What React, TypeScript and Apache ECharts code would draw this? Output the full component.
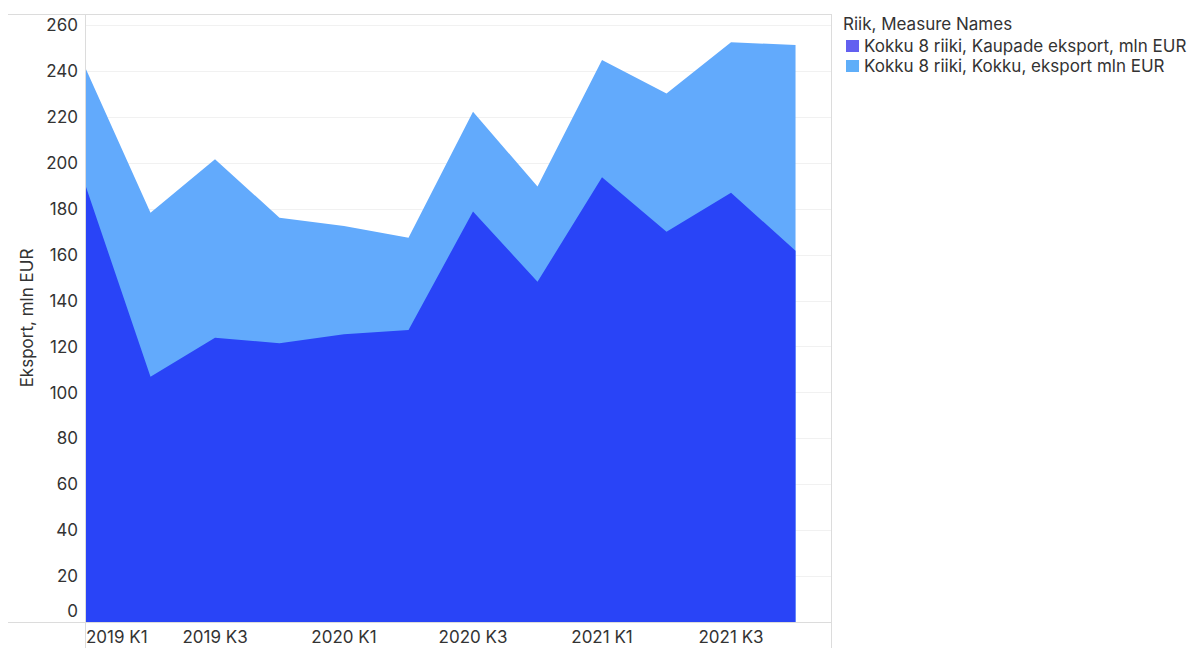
import React, { useEffect, useRef } from "react";
import * as echarts from "echarts";

const quarters = [
  "2019 K1", "2019 K2", "2019 K3", "2019 K4",
  "2020 K1", "2020 K2", "2020 K3", "2020 K4",
  "2021 K1", "2021 K2", "2021 K3", "2021 K4",
];
const goodsExport = [189.6, 106.9, 123.9, 121.5, 125.4, 127.3, 178.9, 148.3, 193.8, 170.1, 187.1, 161.8];
const totalExport = [240.9, 178.4, 201.7, 176.2, 172.6, 167.5, 222.4, 189.8, 245.0, 230.4, 252.7, 251.5];

const goodsName = "Kokku 8 riiki, Kaupade eksport, mln EUR";
const totalName = "Kokku 8 riiki, Kokku, eksport mln EUR";
const legendTitle = "Riik, Measure Names";
const yTitle = "Eksport, mln EUR";

const FONT = "Inter, 'Noto Sans', sans-serif";
const TXT = "#333333";
const BORDER = "#dcdcdc";
const FS = 17;

export default function App() {
  const ref = useRef<HTMLDivElement>(null);
  useEffect(() => {
    if (!ref.current) return;
    const chart = echarts.init(ref.current, undefined, { renderer: "svg" });
    const L = 86, R = 831, T = 14, B = 622;
    chart.setOption({
      animation: false,
      backgroundColor: "#ffffff",
      textStyle: { fontFamily: FONT, color: TXT },
      grid: { left: L, right: 1196 - R, top: T, bottom: 648 - B, containLabel: false },
      xAxis: {
        type: "value",
        min: 0,
        max: 11.55,
        interval: 2,
        axisLine: { show: false },
        axisTick: { show: false },
        splitLine: { show: false },
        axisLabel: {
          fontSize: FS,
          fontFamily: FONT,
          color: TXT,
          margin: 6,
          showMaxLabel: false,
          alignMinLabel: "left",
          formatter: (v: number) => quarters[Math.round(v)] ?? "",
        },
      },
      yAxis: {
        type: "value",
        min: 0,
        max: 265,
        interval: 20,
        name: yTitle,
        nameLocation: "middle",
        nameGap: 50,
        nameTextStyle: { fontSize: FS, fontFamily: FONT, color: TXT },
        axisLine: { show: false },
        axisTick: { show: false },
        splitLine: { lineStyle: { color: "#f1f1f1", width: 1 } },
        axisLabel: {
          fontSize: FS,
          fontFamily: FONT,
          color: TXT,
          margin: 8,
          showMaxLabel: false,
          formatter: (v: number) => (v === 0 ? "{z|0}" : String(v)),
          rich: { z: { fontSize: FS, fontFamily: FONT, color: TXT, padding: [0, 0, 22, 0] } },
        },
      },
      legend: {
        orient: "vertical",
        left: 846,
        top: 36,
        padding: 0,
        itemWidth: 13,
        itemHeight: 12,
        itemGap: 0,
        itemTextGap: 5,
        icon: "rect",
        textStyle: { fontSize: FS, fontFamily: FONT, color: TXT, lineHeight: 20 },
        data: [
          { name: goodsName, itemStyle: { color: "#6360f0" } },
          { name: totalName, itemStyle: { color: "#5faef9" } },
        ],
      },
      graphic: [
        { type: "text", left: 843, top: 15, style: { text: legendTitle, fontSize: FS, fontFamily: FONT, fill: TXT } },
        { type: "line", shape: { x1: 8, y1: T + 0.5, x2: R, y2: T + 0.5 }, style: { stroke: BORDER, lineWidth: 1 }, z: 100 },
        { type: "line", shape: { x1: 8, y1: B + 0.5, x2: R, y2: B + 0.5 }, style: { stroke: BORDER, lineWidth: 1 }, z: 100 },
        { type: "line", shape: { x1: L - 0.5, y1: T, x2: L - 0.5, y2: 648 }, style: { stroke: BORDER, lineWidth: 1 }, z: 100 },
        { type: "line", shape: { x1: R + 0.5, y1: T, x2: R + 0.5, y2: 648 }, style: { stroke: BORDER, lineWidth: 1 }, z: 100 },
      ],
      series: [
        {
          name: totalName,
          type: "line",
          data: quarters.map((_, i) => [i, totalExport[i]]),
          showSymbol: false,
          symbol: "none",
          lineStyle: { width: 0, color: "#62aafc" },
          itemStyle: { color: "#5faef9" },
          areaStyle: { color: "#62aafc", opacity: 1 },
          z: 1,
        },
        {
          name: goodsName,
          type: "line",
          data: quarters.map((_, i) => [i, goodsExport[i]]),
          showSymbol: false,
          symbol: "none",
          lineStyle: { width: 0, color: "#2944f7" },
          itemStyle: { color: "#6360f0" },
          areaStyle: { color: "#2944f7", opacity: 1 },
          z: 2,
        },
      ],
    });
    return () => chart.dispose();
  }, []);
  return (
    <div
      ref={ref}
      style={{ position: "fixed", left: 0, top: 0, width: 1196, height: 648 }}
    />
  );
}
